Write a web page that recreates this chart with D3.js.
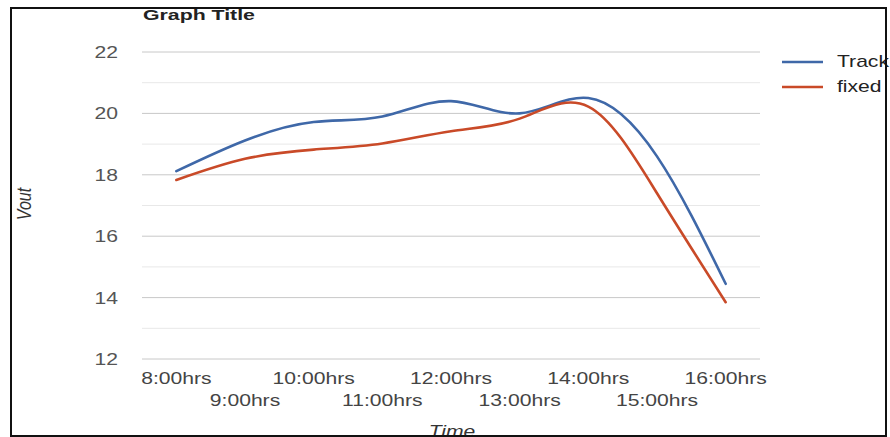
<!DOCTYPE html>
<html>
<head>
<meta charset="utf-8">
<script src="https://cdn.jsdelivr.net/npm/d3@7"></script>
<style>
  html, body { margin: 0; padding: 0; background: #fff; }
  svg { display: block; font-family: "Liberation Sans", Arial, sans-serif; }
</style>
</head>
<body>
<svg id="chart" width="890" height="437"></svg>
<script>
// Hourly readings of output voltage
const hours = ["8:00hrs", "9:00hrs", "10:00hrs", "11:00hrs", "12:00hrs",
               "13:00hrs", "14:00hrs", "15:00hrs", "16:00hrs"];
const trackValues = [18.12, 19.12, 19.72, 19.9, 20.4, 20.0, 20.5, 18.6, 14.45];
const fixedValues = [17.83, 18.52, 18.82, 19.02, 19.42, 19.83, 20.22, 17.4, 13.85];
const seriesNames = ["Track", "fixed"];
const yTicks = [12, 14, 16, 18, 20, 22];
const yMinorTicks = [13, 15, 17, 19, 21];

const colors = ["#3f68a8", "#c94a28"];
const sx = 1.32; // horizontal text stretch

const svg = d3.select("#chart");

const x = d3.scalePoint().domain(hours).range([142, 760]).padding(0.5);
const y = d3.scaleLinear().domain([12, 22]).range([359, 52]);

// stretched text helper
function label(g, txt, px, py, opts = {}) {
  const t = g.append("text")
    .attr("transform", `translate(${px},${py}) scale(${opts.sx || sx},1)` + (opts.rotate ? ` rotate(${opts.rotate})` : ""))
    .attr("text-anchor", opts.anchor || "start")
    .attr("font-size", opts.size || 16)
    .attr("fill", opts.fill || "#444")
    .text(txt);
  if (opts.weight) t.attr("font-weight", opts.weight);
  if (opts.style) t.attr("font-style", opts.style);
  return t;
}

// gridlines
svg.append("g").selectAll("line.minor").data(yMinorTicks).join("line")
  .attr("x1", 142).attr("x2", 760)
  .attr("y1", d => y(d)).attr("y2", d => y(d))
  .attr("stroke", "#e8e8e8").attr("stroke-width", 1);
svg.append("g").selectAll("line.major").data(yTicks).join("line")
  .attr("x1", 142).attr("x2", 760)
  .attr("y1", d => y(d)).attr("y2", d => y(d))
  .attr("stroke", "#c8c8c8").attr("stroke-width", 1);

// y tick labels
const yl = svg.append("g");
yTicks.forEach(v => label(yl, v, 118, y(v) + 6, { anchor: "end", fill: "#555" }));

// x tick labels, staggered in two rows
const xl = svg.append("g");
hours.forEach((h, i) => label(xl, h, x(h), i % 2 === 0 ? 384 : 406, { anchor: "middle", fill: "#444" }));

// series lines
const line = d3.line()
  .x((d, i) => x(hours[i]))
  .y(d => y(d))
  .curve(d3.curveNatural);

[trackValues, fixedValues].forEach((vals, k) => {
  svg.append("path")
    .datum(vals)
    .attr("d", line)
    .attr("fill", "none")
    .attr("stroke", colors[k])
    .attr("stroke-width", 2.6)
    .attr("stroke-linejoin", "round")
    .attr("stroke-linecap", "round");
});

// legend
const lg = svg.append("g");
seriesNames.forEach((name, k) => {
  const ly = 62 + k * 25;
  lg.append("line").attr("x1", 782).attr("x2", 823).attr("y1", ly).attr("y2", ly)
    .attr("stroke", colors[k]).attr("stroke-width", 2.6);
  label(lg, name, 837, ly + 5, { fill: "#222" });
});

// titles
label(svg, "Graph Title", 143, 20, { size: 15, weight: "bold", fill: "#222", sx: 1.42 });
label(svg, "Vout", 31, 204, { anchor: "middle", style: "italic", fill: "#333", rotate: -90 });
label(svg, "Time", 452, 437, { anchor: "middle", style: "italic", fill: "#333" });

// outer frame
svg.append("rect")
  .attr("x", 11).attr("y", 8).attr("width", 875).attr("height", 428)
  .attr("fill", "none").attr("stroke", "#111").attr("stroke-width", 2);
</script>
</body>
</html>
